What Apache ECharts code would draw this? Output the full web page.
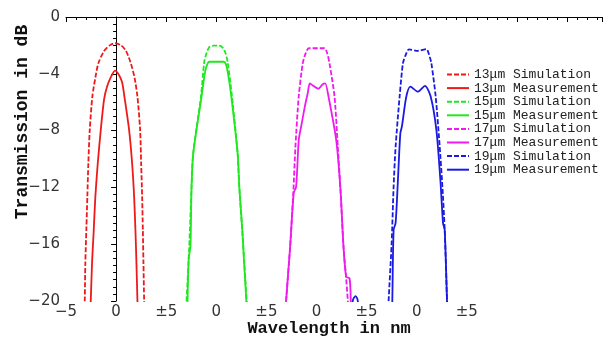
<!DOCTYPE html>
<html>
<head>
<meta charset="utf-8">
<script src="https://cdn.jsdelivr.net/npm/echarts@6/dist/echarts.min.js"></script>
<style>html,body{margin:0;padding:0;background:#fff}#c{width:611px;height:338px}</style>
</head>
<body>
<div id="c"></div>
<script>
// Centre offsets of each waveguide width on the shared x axis (nm)
const centers = [0, 10, 20, 30];
const seriesNames = ['13μm Simulation','13μm Measurement','15μm Simulation','15μm Measurement',
  '17μm Simulation','17μm Measurement','19μm Simulation','19μm Measurement'];
const colors = ['#ee1a1a','#ee1a1a','#1ee81e','#1ee81e','#ee1aee','#ee1aee','#1a1ae0','#1a1ae0'];
const xTickLabels = {'-5':'−5','0':'0','5':'±5','10':'0','15':'±5','20':'0','25':'±5','30':'0','35':'±5'};

// relative wavelength (nm), transmission (dB)
const sim13 = [[-3.2,-21],[-3.13,-20],[-3.07,-17.3],[-2.97,-15],[-2.87,-12.65],[-2.77,-10.3],[-2.63,-7.96],[-2.37,-5.6],[-2.05,-4.2],[-1.77,-3.26],[-1.2,-2.4],[-0.6,-1.98],[-0.1,-1.85],[0.5,-2.0],[1.0,-2.4],[1.47,-3.26],[1.85,-4.3],[2.13,-5.6],[2.4,-7.96],[2.5,-10.3],[2.6,-12.65],[2.67,-15],[2.73,-17.3],[2.8,-20],[2.85,-21]];
const meas13 = [[-2.6,-21],[-2.53,-20],[-2.4,-17.3],[-2.23,-15],[-2.07,-12.65],[-1.83,-10.3],[-1.53,-7.96],[-1.2,-5.8],[-0.9,-4.9],[-0.5,-4.2],[-0.1,-3.78],[0.3,-4.1],[0.6,-4.6],[0.83,-5.6],[1.3,-7.96],[1.6,-10.3],[1.8,-12.65],[1.93,-15],[2.03,-17.3],[2.13,-20],[2.18,-21]];
const sim15 = [[-3.05,-21],[-2.97,-20],[-2.7,-16.2],[-2.47,-12],[-2.3,-9.6],[-1.53,-5.6],[-1.2,-3.15],[-0.95,-2.5],[-0.7,-2.12],[-0.3,-2.02],[0.3,-2.02],[0.63,-2.15],[0.9,-2.5],[1.13,-3.15],[1.57,-5.6],[2.13,-9.6],[2.3,-12],[2.7,-16.2],[3.03,-20],[3.08,-21]];
const meas15 = [[-2.9,-21],[-2.87,-20],[-2.75,-17],[-2.6,-16.3],[-2.55,-15.5],[-2.47,-12],[-2.3,-9.6],[-1.47,-5.6],[-1.1,-3.8],[-0.85,-3.25],[-0.7,-3.15],[0.75,-3.15],[0.95,-3.3],[1.15,-3.9],[1.5,-5.6],[2.13,-9.6],[2.3,-12],[2.55,-14.5],[2.62,-15.2],[2.75,-17],[3.0,-20],[3.05,-21]];
const sim17 = [[-3.1,-21],[-3.03,-20],[-2.63,-16.2],[-2.3,-12.2],[-2.1,-9.13],[-1.77,-5.6],[-1.37,-3.26],[-1.1,-2.6],[-0.77,-2.2],[0.8,-2.2],[1.05,-2.5],[1.3,-3.26],[1.8,-5.6],[2.13,-9.13],[2.4,-12.2],[2.7,-16.2],[2.95,-18.3],[3.13,-20],[3.18,-21]];
const meas17 = [[-3.08,-21],[-3.03,-20],[-2.63,-16.2],[-2.27,-12.4],[-2.03,-11.95],[-1.77,-8.66],[-1.53,-7.72],[-1.1,-6.08],[-0.87,-5.37],[-0.67,-4.67],[-0.4,-4.8],[0.2,-5.05],[0.6,-4.75],[0.87,-4.67],[1.2,-5.6],[1.97,-8.66],[2.4,-12.2],[2.7,-16.2],[2.97,-18.3],[3.3,-18.4],[3.43,-20],[3.46,-21]];
const sim19 = [[-2.85,-21],[-2.8,-20],[-2.5,-16],[-2.3,-11.95],[-2.1,-9.13],[-1.7,-5.6],[-1.37,-3.26],[-1.1,-2.68],[-0.77,-2.28],[0.13,-2.38],[0.97,-2.26],[1.3,-2.8],[1.47,-3.26],[1.9,-5.6],[2.3,-9.13],[2.57,-11.95],[2.8,-15],[3.03,-20],[3.06,-21]];
const meas19 = [[-6.5,-21],[-6.35,-19.9],[-6.1,-19.65],[-5.9,-19.9],[-5.7,-21],[-5.5,'-'],[-2.48,-21],[-2.43,-20],[-2.3,-15],[-2.1,-14.5],[-1.87,-11.5],[-1.63,-8.2],[-1.47,-7.7],[-1.03,-5.6],[-0.63,-4.9],[0.13,-5.26],[0.83,-4.85],[1.4,-5.6],[1.97,-7.96],[2.37,-11.5],[2.63,-14.5],[2.8,-15],[3.03,-20],[3.06,-21]];

const curves = [sim13, meas13, sim15, meas15, sim17, meas17, sim19, meas19];

const series = curves.map((d, i) => {
  const off = centers[Math.floor(i / 2)];
  return {
    name: seriesNames[i], type: 'line', symbol: 'none', showSymbol: false,
    smooth: 0.25, clip: true, animation: false,
    data: d.map(p => [p[0] + off, p[1]]),
    lineStyle: { color: colors[i], width: 1.8, type: i % 2 === 0 ? [5, 2] : 'solid' },
    itemStyle: { color: colors[i] }
  };
});

const chart = echarts.init(document.getElementById('c'));
chart.setOption({
  animation: false,
  grid: { left: 66, right: 9, top: 17, bottom: 37, outerBoundsMode: 'none', containLabel: false },
  legend: {
    orient: 'vertical', left: 441, top: 63, itemWidth: 22, itemHeight: 10, itemGap: 0.6,
    itemStyle: { opacity: 0 },
    textStyle: { fontFamily: 'Liberation Mono', fontSize: 13, lineHeight: 13, color: '#222' },
    data: seriesNames
  },
  xAxis: {
    type: 'value', min: -5, max: 48.5, interval: 5,
    axisLine: { lineStyle: { color: '#000', width: 1 } },
    axisTick: { length: 5, lineStyle: { color: '#000' } },
    minorTick: { show: true, splitNumber: 5, length: 3, lineStyle: { color: '#000' } },
    splitLine: { show: false },
    axisLabel: {
      margin: 4, fontFamily: 'DejaVu Sans', fontSize: 15, color: '#333',
      formatter: v => { const k = String(Math.round(v * 10) / 10); return xTickLabels[k] !== undefined ? xTickLabels[k] : ''; }
    }
  },
  yAxis: {
    type: 'value', min: -20, max: 0, interval: 4,
    axisLine: { show: true, lineStyle: { color: '#000', width: 1 } },
    axisTick: { show: true, length: 5, lineStyle: { color: '#000' } },
    minorTick: { show: true, splitNumber: 8, length: 3, lineStyle: { color: '#000' } },
    splitLine: { show: false },
    axisLabel: {
      margin: 6, fontFamily: 'DejaVu Sans', fontSize: 15, color: '#333',
      formatter: v => v < 0 ? '−' + Math.abs(v) : String(v)
    }
  },
  graphic: [{
    type: 'text', x: 22, y: 122, rotation: Math.PI / 2,
    style: { text: 'Transmission in dB', font: 'bold 18px "Liberation Mono"', fill: '#111',
      align: 'center', verticalAlign: 'middle' }
  }, {
    type: 'text', x: 329, y: 329,
    style: { text: 'Wavelength in nm', font: 'bold 17px "Liberation Mono"', fill: '#111',
      align: 'center', verticalAlign: 'middle' }
  }],
  series: series
});
</script>
</body>
</html>
